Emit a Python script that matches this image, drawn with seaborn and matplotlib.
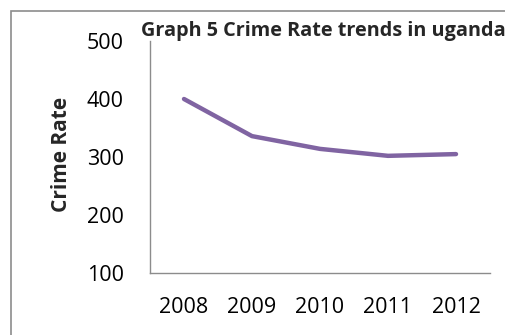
import matplotlib
matplotlib.use("Agg")
import matplotlib.pyplot as plt
import seaborn as sns
import pandas as pd
from matplotlib.patches import Rectangle

years = ["2008", "2009", "2010", "2011", "2012"]
crime_rate = [400, 336, 314, 302, 305]
y_ticks = [100, 200, 300, 400, 500]

sns.set_style("white")
plt.rcParams["font.family"] = ["Open Sans", "DejaVu Sans"]

W, H = 506, 335
fig = plt.figure(figsize=(W / 100, H / 100), dpi=100)
ax = fig.add_axes([150 / W, (H - 273) / H, 340 / W, 232 / H])

df = pd.DataFrame({"year": years, "rate": crime_rate})
sns.lineplot(data=df, x="year", y="rate", ax=ax, color="#8064A2",
             linewidth=3.2, solid_capstyle="round", sort=False)

ax.set_xlim(-0.5, 4.5)
ax.set_ylim(100, 500)
ax.set_yticks(y_ticks)
ax.set_xlabel("")
ax.set_ylabel("")
ax.tick_params(axis="both", length=0, labelsize=15.5, colors="black")
ax.tick_params(axis="x", pad=17)
ax.tick_params(axis="y", pad=19)
for side in ["top", "right"]:
    ax.spines[side].set_visible(False)
for side in ["left", "bottom"]:
    ax.spines[side].set_color("#8c8c8c")
    ax.spines[side].set_linewidth(1.0)

fig.text(62 / W, 1 - 154 / H, "Crime Rate", rotation=90, ha="center",
         va="center", fontsize=15, fontweight="bold")
fig.text(141 / W, 1 - 31 / H, "Graph 5 Crime Rate trends in uganda",
         ha="left", va="center", fontsize=14.3, fontweight="bold")

# outer chart frame
fig.patches.append(Rectangle((11 / W, -0.2), 1.2, 1 - 11 / H + 0.2,
                             transform=fig.transFigure, fill=False,
                             edgecolor="#8c8c8c", linewidth=1.2))

fig.savefig("out.png", dpi=100)
